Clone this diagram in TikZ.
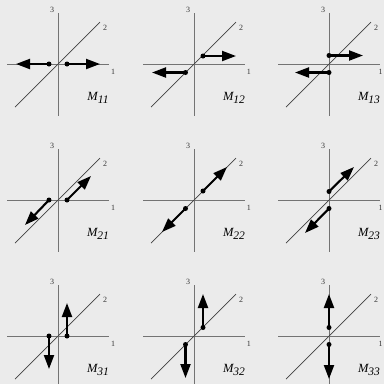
\documentclass[tikz,border=0pt]{standalone}
\usepackage{fontspec}
\setmainfont{Liberation Serif}
\usetikzlibrary{arrows.meta}
\tikzset{
  axisline/.style={draw=black!55, line width=0.9pt},
  diagline/.style={draw=black!75, line width=0.7pt},
  vecline/.style={line width=2.1pt, -{Triangle[length=14pt,width=10pt]}},
  dotpt/.style={circle, fill=black, inner sep=0pt, minimum size=5pt},
  axlab/.style={font=\fontsize{8}{9}\selectfont, inner sep=0pt, text=black!80},
  mlab/.style={font=\fontsize{12.5}{13}\selectfont\itshape, inner sep=0pt},
}
\newcommand\mkpanel[5]{%
  \begin{scope}[shift={(#2,#3)}]
    \coordinate (#1-l) at (-51,0);
    \coordinate (#1-r) at (51,0);
    \coordinate (#1-t) at (0,-51);
    \coordinate (#1-b) at (0,52);
    \coordinate (#1-dl) at (-43,43);
    \coordinate (#1-dr) at (42,-42);
    \draw[axisline] (#1-l) -- (#1-r);
    \draw[axisline] (#1-t) -- (#1-b);
    \draw[diagline] (#1-dl) -- (#1-dr);
    \node[axlab] (#1-n3) at (-6,-54) {3};
    \node[axlab] (#1-n2) at (47,-36) {2};
    \node[axlab] (#1-n1) at (#5,8) {1};
    \node[mlab] (#1-m) at (40,34) {M\raisebox{-3.5pt}{\fontsize{11.5}{12}\selectfont #4}};
  \end{scope}}
\newcommand\mkvec[7]{%
  \begin{scope}[shift={(#2,#3)}]
    \coordinate (#1-tip) at (#6,#7);
    \node[dotpt] (#1) at (#4,#5) {};
    \draw[vecline] (#1.center) -- (#1-tip);
  \end{scope}}
\begin{document}
\begin{tikzpicture}[x=1pt,y=-1pt]
\useasboundingbox (0,0) rectangle (384,384);
\fill[black!8] (0,0) rectangle (384,384);
% row 1
\mkpanel{p11}{58}{64}{11}{55}
\mkvec{p11a}{58}{64}{-9}{0}{-42}{0}
\mkvec{p11b}{58}{64}{9}{0}{42}{0}
\mkpanel{p12}{194}{64}{12}{55}
\mkvec{p12a}{194}{64}{9}{-8}{42}{-8}
\mkvec{p12b}{194}{64}{-8.5}{8.5}{-42}{8.5}
\mkpanel{p13}{329}{64}{13}{51.5}
\mkvec{p13a}{329}{64}{0}{-8.5}{34}{-8.5}
\mkvec{p13b}{329}{64}{0}{8.5}{-34}{8.5}
% row 2
\mkpanel{p21}{58}{200}{21}{55}
\mkvec{p21a}{58}{200}{9}{0}{33}{-24}
\mkvec{p21b}{58}{200}{-9}{0}{-33}{25}
\mkpanel{p22}{194}{200}{22}{55}
\mkvec{p22a}{194}{200}{9}{-9}{33}{-33}
\mkvec{p22b}{194}{200}{-8.5}{8.5}{-32}{32}
\mkpanel{p23}{329}{200}{23}{51.5}
\mkvec{p23a}{329}{200}{0}{-8.5}{25}{-33}
\mkvec{p23b}{329}{200}{0}{8.5}{-24}{33}
% row 3
\mkpanel{p31}{58}{336}{31}{55}
\mkvec{p31a}{58}{336}{9}{0}{9}{-33}
\mkvec{p31b}{58}{336}{-9}{0}{-9}{33}
\mkpanel{p32}{194}{336}{32}{55}
\mkvec{p32a}{194}{336}{9}{-8.5}{9}{-42}
\mkvec{p32b}{194}{336}{-8.5}{8.5}{-8.5}{42}
\mkpanel{p33}{329}{336}{33}{51.5}
\mkvec{p33a}{329}{336}{0}{-8.5}{0}{-42}
\mkvec{p33b}{329}{336}{0}{8.5}{0}{43}
\end{tikzpicture}
\end{document}
